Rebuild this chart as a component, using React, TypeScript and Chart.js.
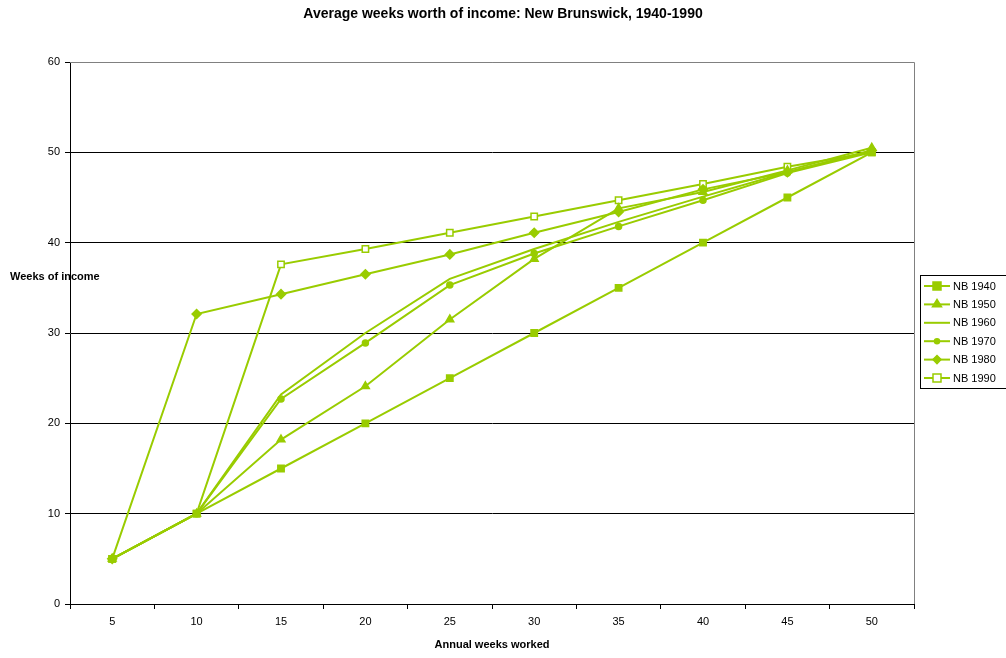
import React, { useEffect, useRef } from "react";
import { Chart, registerables } from "chart.js";

Chart.register(...registerables);

const categories = ["5", "10", "15", "20", "25", "30", "35", "40", "45", "50"];
const nb1940 = [5, 10, 15, 20, 25, 30, 35, 40, 45, 50];
const nb1950 = [5, 10, 18.2, 24.1, 31.5, 38.2, 43.8, 45.6, 48.0, 50.5];
const nb1960 = [5, 10, 23.2, 30.0, 36.0, 39.3, 42.3, 45.1, 47.8, 50.2];
const nb1970 = [5, 10, 22.7, 28.9, 35.3, 38.8, 41.8, 44.7, 47.7, 50.0];
const nb1980 = [5, 32.1, 34.3, 36.5, 38.7, 41.1, 43.4, 45.9, 47.8, 50.2];
const nb1990 = [5, 10, 37.6, 39.3, 41.1, 42.9, 44.7, 46.5, 48.4, 50.0];
const seriesNames = ["NB 1940", "NB 1950", "NB 1960", "NB 1970", "NB 1980", "NB 1990"];

const GREEN = "#99CC00";
const FONT = "'Liberation Sans', Arial, sans-serif";

const styles: any[] = [
  { pointStyle: "rect", pointRadius: 4.5, fill: GREEN },
  { pointStyle: "triangle", pointRadius: 4.5, fill: GREEN },
  { pointStyle: "circle", pointRadius: 0, fill: GREEN },
  { pointStyle: "circle", pointRadius: 3, fill: GREEN },
  { pointStyle: "rectRot", pointRadius: 4.5, fill: GREEN },
  { pointStyle: "rect", pointRadius: 4.5, fill: "#ffffff" },
];

const decorPlugin = {
  id: "decor",
  afterDraw(chart: any) {
    const ctx = chart.ctx;
    const a = chart.chartArea;
    ctx.save();
    ctx.strokeStyle = "#808080";
    ctx.lineWidth = 1;
    ctx.beginPath();
    ctx.moveTo(a.left, a.top + 0.5);
    ctx.lineTo(a.right + 0.5, a.top + 0.5);
    ctx.lineTo(a.right + 0.5, a.bottom);
    ctx.stroke();
    ctx.fillStyle = "#000";
    ctx.textAlign = "center";
    ctx.textBaseline = "middle";
    ctx.font = `bold 14px ${FONT}`;
    ctx.fillText("Average weeks worth of income: New Brunswick, 1940-1990", 503, 14);
    ctx.font = `bold 11px ${FONT}`;
    ctx.fillText("Annual weeks worked", (a.left + a.right) / 2, 645);
    ctx.textAlign = "left";
    ctx.fillText("Weeks of income", 10, 277);
    const lx = 920, ly = 275, lh = 113;
    ctx.fillStyle = "#fff";
    ctx.fillRect(lx, ly, 100, lh);
    ctx.strokeStyle = "#000";
    ctx.lineWidth = 1;
    ctx.strokeRect(lx + 0.5, ly + 0.5, 100, lh);
    const sets = chart.data.datasets;
    for (let i = 0; i < sets.length; i++) {
      const y = 286 + i * 18.4;
      ctx.strokeStyle = GREEN;
      ctx.lineWidth = 2;
      ctx.beginPath();
      ctx.moveTo(924, y);
      ctx.lineTo(950, y);
      ctx.stroke();
      const st = styles[i];
      if (st.pointRadius > 0) {
        ctx.fillStyle = st.fill;
        ctx.strokeStyle = GREEN;
        ctx.lineWidth = 1.5;
        ctx.beginPath();
        const r = st.pointRadius - 0.5;
        const cx = 937;
        if (st.pointStyle === "rect") {
          ctx.rect(cx - r, y - r, 2 * r, 2 * r);
        } else if (st.pointStyle === "triangle") {
          ctx.moveTo(cx, y - r - 1);
          ctx.lineTo(cx + r + 0.5, y + r * 0.6);
          ctx.lineTo(cx - r - 0.5, y + r * 0.6);
          ctx.closePath();
        } else if (st.pointStyle === "rectRot") {
          ctx.moveTo(cx, y - r);
          ctx.lineTo(cx + r, y);
          ctx.lineTo(cx, y + r);
          ctx.lineTo(cx - r, y);
          ctx.closePath();
        } else {
          ctx.arc(cx, y, r, 0, Math.PI * 2);
        }
        ctx.fill();
        ctx.stroke();
      }
      ctx.fillStyle = "#000";
      ctx.font = `11px ${FONT}`;
      ctx.textAlign = "left";
      ctx.textBaseline = "middle";
      ctx.fillText(sets[i].label, 953, y + 0.5);
    }
    ctx.restore();
  },
};

export default function App() {
  const ref = useRef<HTMLCanvasElement | null>(null);
  useEffect(() => {
    if (!ref.current) return;
    const all = [nb1940, nb1950, nb1960, nb1970, nb1980, nb1990];
    const chart = new Chart(ref.current, {
      type: "line",
      data: {
        labels: categories,
        datasets: all.map((d, i) => ({
          label: seriesNames[i],
          data: d,
          borderColor: GREEN,
          borderWidth: 2,
          backgroundColor: styles[i].fill,
          pointBackgroundColor: styles[i].fill,
          pointBorderColor: GREEN,
          pointBorderWidth: 1.5,
          pointStyle: styles[i].pointStyle,
          pointRadius: styles[i].pointRadius,
          tension: 0,
          fill: false,
        })),
      },
      options: {
        responsive: false,
        animation: false,
        events: [],
        layout: { padding: { left: 0, right: 92, top: 62, bottom: 0 } },
        plugins: {
          legend: { display: false },
          title: { display: false },
          tooltip: { enabled: false },
        },
        scales: {
          x: {
            offset: true,
            grid: {
              offset: true,
              drawOnChartArea: false,
              drawTicks: true,
              tickLength: 5,
              color: "#000",
            },
            border: { color: "#000", width: 1 },
            ticks: {
              color: "#000",
              font: { family: FONT, size: 11 },
              padding: 6,
              maxRotation: 0,
            },
            afterFit(scale: any) {
              scale.height = 54;
            },
          },
          y: {
            min: 0,
            max: 60,
            ticks: {
              stepSize: 10,
              color: "#000",
              font: { family: FONT, size: 11 },
              padding: 5,
            },
            grid: {
              color: (c: any) => (c.tick && c.tick.value === 60 ? "#808080" : "#000"),
              tickLength: 5,
              tickColor: "#000",
            },
            border: { color: "#000", width: 1 },
            afterFit(scale: any) {
              scale.width = 70;
            },
          },
        },
      },
      plugins: [decorPlugin],
    } as any);
    return () => chart.destroy();
  }, []);
  return (
    <div style={{ position: "fixed", left: 0, top: 0, width: 1006, height: 658, background: "#fff" }}>
      <canvas ref={ref} width={1006} height={658} style={{ width: 1006, height: 658 }} />
    </div>
  );
}
